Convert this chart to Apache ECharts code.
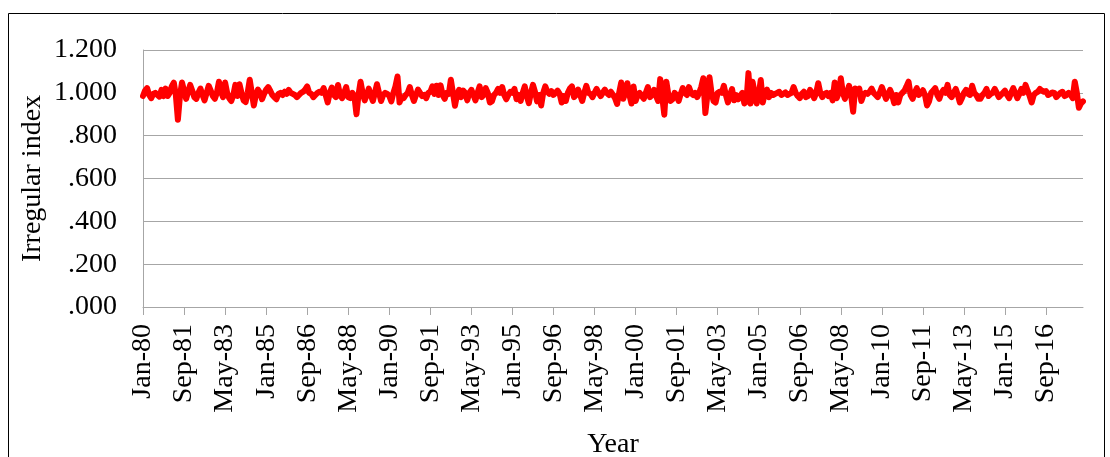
<!DOCTYPE html>
<html>
<head>
<meta charset="utf-8">
<script src="https://cdn.jsdelivr.net/npm/echarts@6/dist/echarts.min.js"></script>
<style>
  html, body { margin: 0; padding: 0; background: #fff; }
  #chart { width: 1110px; height: 457px; }
</style>
</head>
<body>
<div id="chart"></div>
<script>
// Monthly irregular index, Jan 1980 - Mar 2018
const monthNames = ['Jan','Feb','Mar','Apr','May','Jun','Jul','Aug','Sep','Oct','Nov','Dec'];
const firstYear = 1980;

const irregular = [
  // 1980
  0.985, 1.010, 1.022, 0.990, 0.975, 0.995, 1.000, 0.990, 0.982, 1.014, 0.985, 1.020,
  // 1981
  0.985, 1.000, 1.030, 1.048, 0.990, 0.874, 0.985, 1.048, 1.010, 0.972, 1.005, 1.037,
  // 1982
  1.010, 0.980, 0.972, 1.000, 1.020, 0.990, 0.965, 1.000, 1.033, 1.010, 0.985, 0.972,
  // 1983
  1.000, 1.052, 1.005, 0.980, 1.048, 1.000, 0.975, 0.962, 0.990, 1.037, 0.985, 1.040,
  // 1984
  1.000, 0.965, 0.957, 1.000, 1.061, 1.000, 0.941, 0.990, 1.015, 1.000, 0.970, 0.995,
  // 1985
  1.015, 1.027, 1.010, 0.990, 0.980, 0.970, 0.995, 1.000, 0.990, 1.005, 0.995, 1.014,
  // 1986
  1.000, 0.995, 0.990, 0.980, 0.990, 1.000, 1.005, 1.015, 1.030, 1.000, 0.995, 0.980,
  // 1987
  0.990, 1.000, 1.005, 1.000, 1.022, 0.990, 0.955, 1.000, 1.025, 0.990, 0.980, 1.037,
  // 1988
  0.990, 0.975, 1.000, 1.027, 0.980, 0.975, 1.000, 0.985, 0.900, 0.990, 1.052, 1.000,
  // 1989
  0.965, 0.990, 1.020, 0.990, 0.962, 1.000, 1.040, 1.000, 0.962, 0.990, 1.000, 0.995,
  // 1990
  0.985, 0.960, 1.000, 1.030, 1.076, 0.955, 0.980, 0.975, 0.990, 1.000, 1.027, 0.990,
  // 1991
  0.962, 0.990, 1.015, 1.000, 0.985, 0.990, 0.975, 1.000, 1.005, 1.030, 0.995, 1.033,
  // 1992
  0.990, 1.035, 0.990, 0.972, 1.000, 0.995, 1.061, 1.000, 0.940, 0.990, 1.014, 0.980,
  // 1993
  1.010, 1.000, 0.965, 1.000, 1.014, 0.990, 0.965, 1.000, 1.030, 0.980, 0.990, 1.022,
  // 1994
  1.000, 0.955, 0.960, 0.990, 1.000, 1.018, 1.000, 1.027, 0.990, 0.970, 0.990, 1.005,
  // 1995
  1.000, 1.018, 0.970, 0.990, 0.962, 1.000, 1.030, 0.985, 0.952, 1.000, 1.037, 1.005,
  // 1996
  0.960, 0.990, 0.941, 1.000, 1.030, 1.005, 0.995, 1.008, 0.990, 1.000, 1.010, 0.995,
  // 1997
  0.955, 0.985, 0.962, 1.000, 1.020, 1.030, 0.980, 0.990, 1.015, 0.990, 0.962, 1.000,
  // 1998
  1.033, 1.000, 0.995, 0.980, 1.000, 1.018, 1.000, 0.985, 1.000, 1.015, 1.000, 0.990,
  // 1999
  1.005, 0.990, 0.975, 0.948, 1.000, 1.048, 0.972, 1.000, 1.045, 0.990, 0.950, 1.030,
  // 2000
  0.962, 0.990, 1.000, 0.985, 0.972, 1.000, 1.027, 0.980, 0.990, 1.014, 0.985, 0.962,
  // 2001
  1.064, 0.980, 0.898, 1.052, 0.990, 0.962, 0.970, 1.000, 0.990, 0.962, 0.995, 1.022,
  // 2002
  1.000, 0.990, 1.027, 1.000, 0.990, 1.000, 0.980, 1.000, 1.027, 1.068, 0.906, 0.990,
  // 2003
  1.073, 1.000, 0.962, 0.955, 1.000, 1.005, 1.000, 1.033, 0.990, 0.955, 0.990, 1.018,
  // 2004
  0.965, 0.990, 0.970, 0.985, 1.000, 0.950, 0.960, 1.092, 0.950, 1.052, 1.000, 0.950,
  // 2005
  0.990, 1.060, 0.955, 1.000, 1.015, 0.980, 1.000, 0.990, 0.995, 1.000, 1.005, 0.990,
  // 2006
  0.995, 1.002, 0.990, 0.995, 1.000, 1.027, 1.000, 0.985, 0.975, 0.995, 1.005, 0.980,
  // 2007
  0.985, 1.014, 1.000, 0.975, 1.000, 1.045, 1.000, 0.980, 0.995, 1.000, 0.985, 1.000,
  // 2008
  0.965, 1.048, 0.975, 1.000, 1.068, 1.000, 0.972, 1.000, 1.033, 0.990, 0.912, 1.020,
  // 2009
  1.000, 1.020, 0.962, 0.990, 1.000, 0.995, 1.005, 1.020, 1.000, 0.990, 0.980, 1.000,
  // 2010
  1.027, 1.000, 0.972, 0.990, 1.014, 0.990, 0.952, 0.990, 0.955, 0.990, 1.000, 1.010,
  // 2011
  1.030, 1.052, 0.990, 0.972, 1.000, 1.022, 0.990, 1.000, 1.012, 0.990, 0.941, 0.960,
  // 2012
  1.000, 1.010, 1.022, 0.990, 0.972, 1.000, 1.014, 1.000, 1.037, 0.990, 0.980, 1.000,
  // 2013
  1.018, 0.990, 0.955, 0.975, 1.000, 1.014, 0.995, 0.990, 1.033, 1.000, 0.990, 0.972,
  // 2014
  0.972, 0.990, 1.000, 1.018, 0.985, 0.995, 1.000, 1.018, 1.000, 0.980, 0.990, 1.000,
  // 2015
  1.010, 0.990, 0.975, 1.000, 1.022, 1.000, 0.975, 0.995, 1.018, 1.000, 1.037, 1.010,
  // 2016
  0.985, 0.955, 0.990, 1.000, 1.005, 1.018, 1.010, 1.005, 1.008, 0.990, 0.995, 1.002,
  // 2017
  1.000, 0.980, 0.990, 1.000, 1.005, 0.985, 0.990, 1.000, 0.990, 0.975, 1.052, 1.000,
  // 2018
  0.930, 0.950, 0.960
];

// Month labels such as "Jan-80", one per data point
const categories = irregular.map((_, i) => {
  const y = firstYear + Math.floor(i / 12);
  return monthNames[i % 12] + '-' + String(y % 100).padStart(2, '0');
});

const yTicks = { min: 0, max: 1.2, step: 0.2 };
const labelEvery = 20;

const serif = "'Liberation Serif', 'Times New Roman', serif";
const gridGrey = '#A6A6A6';

const chart = echarts.init(document.getElementById('chart'), null, { renderer: 'canvas' });

chart.setOption({
  animation: false,
  backgroundColor: '#ffffff',
  textStyle: { fontFamily: serif, color: '#000' },
  graphic: [{
    type: 'rect',
    shape: { x: 8.5, y: 13.5, width: 1096, height: 460 },
    style: { fill: 'none', stroke: '#000', lineWidth: 1 },
    silent: true,
    z: -1
  }],
  grid: {
    left: 143, right: 27, top: 50, bottom: 150,
    containLabel: false,
    outerBoundsMode: 'none'
  },
  xAxis: {
    type: 'category',
    data: categories,
    boundaryGap: false,
    name: 'Year',
    nameLocation: 'middle',
    nameGap: 124,
    nameMoveOverlap: false,
    nameTextStyle: { fontFamily: serif, fontSize: 28, color: '#000', verticalAlign: 'top' },
    axisLine: { show: true, lineStyle: { color: gridGrey, width: 1 } },
    axisTick: { show: true, interval: labelEvery - 1, length: 8, lineStyle: { color: gridGrey } },
    axisLabel: {
      interval: labelEvery - 1,
      rotate: 90,
      margin: 17,
      fontFamily: serif,
      fontSize: 28,
      color: '#000'
    },
    splitLine: { show: false }
  },
  yAxis: {
    type: 'value',
    min: yTicks.min,
    max: yTicks.max,
    interval: yTicks.step,
    name: 'Irregular index',
    nameLocation: 'middle',
    nameRotate: 90,
    nameGap: 96,
    nameMoveOverlap: false,
    nameTextStyle: { fontFamily: serif, fontSize: 28, color: '#000' },
    axisLine: { show: true, lineStyle: { color: gridGrey, width: 1 } },
    axisTick: { show: false },
    axisLabel: {
      margin: 26,
      fontFamily: serif,
      fontSize: 28,
      color: '#000',
      formatter: v => {
        const s = v.toFixed(3);
        return s.startsWith('0') ? s.slice(1) : s;
      }
    },
    splitLine: { show: true, lineStyle: { color: gridGrey, width: 1 } }
  },
  series: [{
    type: 'line',
    data: irregular,
    showSymbol: false,
    smooth: false,
    lineStyle: { color: '#FF0000', width: 6, cap: 'round', join: 'round' },
    itemStyle: { color: '#FF0000' }
  }]
});
</script>
</body>
</html>
